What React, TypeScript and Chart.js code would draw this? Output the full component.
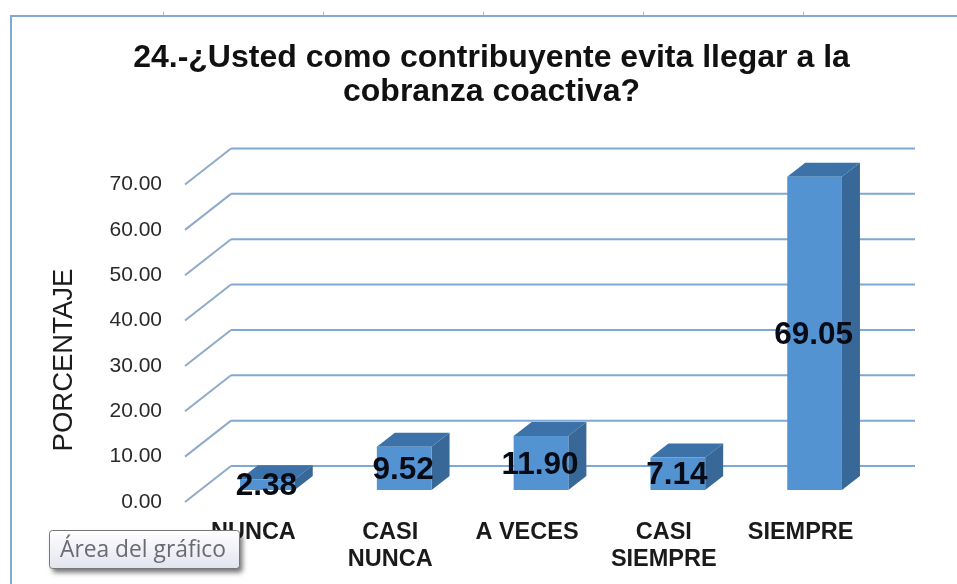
import React, { useEffect, useRef } from "react";
import { Chart, registerables } from "chart.js";

Chart.register(...registerables);

const titleLines = ["24.-¿Usted como contribuyente evita llegar a la", "cobranza coactiva?"];
const categories = ["NUNCA", ["CASI", "NUNCA"], "A VECES", ["CASI", "SIEMPRE"], "SIEMPRE"];
const percentages = [2.38, 9.52, 11.9, 7.14, 69.05];
const yAxisTitle = "PORCENTAJE";
const tooltipText = "Área del gráfico";
const FONT = "'Liberation Sans', Arial, sans-serif";

const wallDx = 46;
const wallDy = -36;
const barDx = 14;
const barDy = -12;
const depthDx = 18;
const depthDy = -14;

function poly(ctx: CanvasRenderingContext2D, pts: number[][], fill: string) {
  ctx.beginPath();
  pts.forEach((p, i) => (i ? ctx.lineTo(p[0], p[1]) : ctx.moveTo(p[0], p[1])));
  ctx.closePath();
  ctx.fillStyle = fill;
  ctx.fill();
}

const scene3d = {
  id: "scene3d",
  beforeDraw(chart: any) {
    const ctx = chart.ctx;
    ctx.save();
    ctx.fillStyle = "#ffffff";
    ctx.fillRect(0, 0, chart.width, chart.height);
    ctx.strokeStyle = "#82a9d0";
    ctx.lineWidth = 2;
    ctx.beginPath();
    ctx.moveTo(11, chart.height);
    ctx.lineTo(11, 16);
    ctx.lineTo(chart.width, 16);
    ctx.stroke();
    ctx.strokeStyle = "#a9b9cc";
    ctx.lineWidth = 1;
    [163, 323, 483, 643, 803].forEach((x) => {
      ctx.beginPath();
      ctx.moveTo(x + 0.5, 12);
      ctx.lineTo(x + 0.5, 15);
      ctx.stroke();
    });
    ctx.restore();
  },
  beforeDatasetsDraw(chart: any) {
    const ctx = chart.ctx;
    const y = chart.scales.y;
    const left = chart.chartArea.left;
    const right = chart.chartArea.right;
    ctx.save();
    y.ticks.forEach((t: any) => {
      const py = y.getPixelForValue(t.value);
      ctx.lineWidth = 2;
      ctx.strokeStyle = "#8fabc9";
      ctx.beginPath();
      ctx.moveTo(left, py);
      ctx.lineTo(left + wallDx, py + wallDy);
      ctx.stroke();
      ctx.strokeStyle = "#7ea8d6";
      ctx.beginPath();
      ctx.moveTo(left + wallDx, py + wallDy);
      ctx.lineTo(right + wallDx, py + wallDy);
      ctx.stroke();
    });
    ctx.restore();
    ctx.save();
    ctx.translate(barDx, barDy);
    chart.getDatasetMeta(0).data.forEach((bar: any) => {
      const l = bar.x - bar.width / 2;
      const r = bar.x + bar.width / 2;
      poly(ctx, [[l, bar.y], [l + depthDx, bar.y + depthDy], [r + depthDx, bar.y + depthDy], [r, bar.y]], "#3c72a8");
      poly(ctx, [[r, bar.y], [r + depthDx, bar.y + depthDy], [r + depthDx, bar.base + depthDy], [r, bar.base]], "#376898");
    });
  },
  afterDatasetsDraw(chart: any) {
    const ctx = chart.ctx;
    ctx.restore();
    ctx.save();
    ctx.font = `bold 31.5px ${FONT}`;
    ctx.fillStyle = "#070b16";
    ctx.textAlign = "center";
    ctx.textBaseline = "middle";
    chart.getDatasetMeta(0).data.forEach((bar: any, i: number) => {
      ctx.fillText(percentages[i].toFixed(2), bar.x + barDx - 1, (bar.y + bar.base) / 2 + barDy + 2);
    });
    ctx.restore();
  },
  afterDraw(chart: any) {
    const ctx = chart.ctx;
    ctx.save();
    // vertical axis caption
    ctx.translate(64, 360);
    ctx.rotate(-Math.PI / 2);
    ctx.font = `27.5px ${FONT}`;
    ctx.fillStyle = "#1c1c1c";
    ctx.textAlign = "center";
    ctx.textBaseline = "middle";
    ctx.fillText(yAxisTitle, 0, 0);
    ctx.restore();

    // hover tip
    ctx.save();
    const x = 49.5, y = 530.5, w = 190, h = 38;
    ctx.shadowColor = "rgba(0,0,0,0.55)";
    ctx.shadowBlur = 5;
    ctx.shadowOffsetX = 3;
    ctx.shadowOffsetY = 4;
    const g = ctx.createLinearGradient(0, y, 0, y + h);
    g.addColorStop(0, "#ffffff");
    g.addColorStop(1, "#e3e3ef");
    ctx.fillStyle = g;
    ctx.beginPath();
    ctx.roundRect(x, y, w, h, 3);
    ctx.fill();
    ctx.shadowColor = "transparent";
    ctx.strokeStyle = "#777777";
    ctx.lineWidth = 1;
    ctx.stroke();
    ctx.font = "22.8px 'Open Sans', sans-serif";
    ctx.fillStyle = "#6a6a72";
    ctx.textBaseline = "middle";
    ctx.fillText(tooltipText, 60, y + 20);
    ctx.restore();
  },
};

export default function App() {
  const ref = useRef<HTMLCanvasElement>(null);
  useEffect(() => {
    document.body.style.margin = "0";
    const chart = new Chart(ref.current as HTMLCanvasElement, {
      type: "bar",
      data: {
        labels: categories as any,
        datasets: [
          {
            data: percentages,
            backgroundColor: "#5393d1",
            borderWidth: 0,
            barPercentage: 0.4,
            categoryPercentage: 1,
            clip: false as any,
          },
        ],
      },
      options: {
        animation: false,
        responsive: false,
        layout: { padding: { left: 26, right: 0, top: 0, bottom: 0 } },
        plugins: {
          legend: { display: false },
          tooltip: { enabled: false },
          title: {
            display: true,
            text: titleLines,
            color: "#111111",
            font: { family: FONT, size: 32, weight: "bold", lineHeight: 1.07 },
            padding: { top: 41, bottom: 75 },
          },
        },
        scales: {
          x: {
            grid: { display: false, drawTicks: false },
            border: { display: false },
            ticks: {
              color: "#1a1a1a",
              font: { family: FONT, size: 23.5, weight: "bold", lineHeight: 1.15 },
              padding: 17,
              maxRotation: 0,
              autoSkip: false,
            },
            afterFit: (s: any) => {
              s.height = 82;
            },
          },
          y: {
            min: 0,
            max: 70,
            grid: { display: false, drawTicks: false },
            border: { display: false },
            ticks: {
              stepSize: 10,
              color: "#2a2a2a",
              padding: 23,
              font: { family: FONT, size: 21 },
              callback: (v: any) => Number(v).toFixed(2),
            },
            afterFit: (s: any) => {
              s.width = 159;
            },
          },
          yr: {
            position: "right",
            min: 0,
            max: 70,
            grid: { display: false, drawTicks: false },
            border: { display: false },
            ticks: { display: false },
            afterFit: (s: any) => {
              s.width = 88;
            },
          },
        },
      } as any,
      plugins: [scene3d as any],
    });
    return () => chart.destroy();
  }, []);
  return (
    <div style={{ position: "fixed", left: 0, top: 0, width: 957, height: 584 }}>
      <canvas ref={ref} width={957} height={584} style={{ display: "block", filter: "blur(0.5px)" }} />
    </div>
  );
}
